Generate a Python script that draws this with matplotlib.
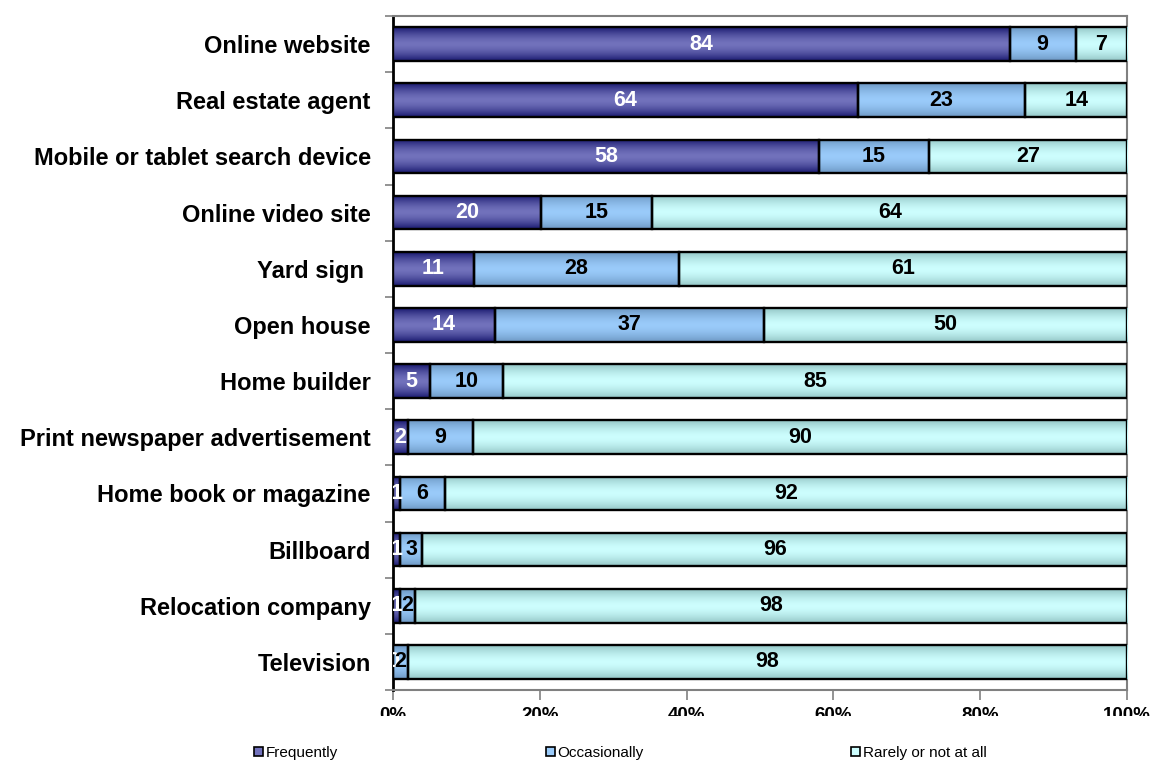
"""100% stacked bar chart: how often home buyers used each information source."""

import matplotlib.pyplot as plt
import numpy as np
from matplotlib.patches import Patch
from matplotlib.transforms import Bbox, TransformedBbox
from matplotlib.colors import to_rgb

# Data (percent of respondents)
SOURCES = [
    "Online website",
    "Real estate agent",
    "Mobile or tablet search device",
    "Online video site",
    "Yard sign ",
    "Open house",
    "Home builder",
    "Print newspaper advertisement",
    "Home book or magazine",
    "Billboard",
    "Relocation company",
    "Television",
]
FREQUENTLY = [84, 64, 58, 20, 11, 14, 5, 2, 1, 1, 1, 0]
OCCASIONALLY = [9, 23, 15, 15, 28, 37, 10, 9, 6, 3, 2, 2]
RARELY = [7, 14, 27, 64, 61, 50, 85, 90, 92, 96, 98, 98]
SERIES = ["Frequently", "Occasionally", "Rarely or not at all"]
X_TICKS = [0, 20, 40, 60, 80, 100]

# Colours: (centre, edge) of the vertical shading in each bar
SHADES = [
    ("#7272bc", "#1a1a70"),
    ("#9acbfa", "#6d98c4"),
    ("#cdfefe", "#94c6c6"),
]
LABEL_COLORS = ["white", "black", "black"]
BAR_H = 0.6

plt.rcParams.update({
    "font.family": ["Liberation Sans", "DejaVu Sans"],
    "figure.facecolor": "white",
    "axes.facecolor": "white",
})


def gradient(centre, edge, n=64):
    t = np.linspace(-1, 1, n)
    m = np.abs(t) ** 1.6
    c, e = np.array(to_rgb(centre)), np.array(to_rgb(edge))
    return (c[None, :] * (1 - m[:, None]) + e[None, :] * m[:, None])[:, None, :]


fig = plt.figure(figsize=(11.53, 7.62), dpi=100)
ax = fig.add_axes([393 / 1153, 1 - 690 / 762, (1127 - 393) / 1153, (690 - 16) / 762])

values = np.array([FREQUENTLY, OCCASIONALLY, RARELY], dtype=float)
shares = values / values.sum(axis=0) * 100
y = np.arange(len(SOURCES))
left = np.zeros(len(SOURCES))

for k, name in enumerate(SERIES):
    bars = ax.barh(y, shares[k], left=left, height=BAR_H, color=SHADES[k][0],
                   linewidth=0, label=name, zorder=3)
    grad = gradient(*SHADES[k])
    for bar in bars:
        if bar.get_width() <= 0:
            continue
        x0, y0 = bar.get_x(), bar.get_y()
        im = ax.imshow(grad, extent=[x0, x0 + bar.get_width(), y0, y0 + bar.get_height()],
                       aspect="auto", interpolation="bilinear", zorder=3.5)
        im.set_clip_path(bar)
    # black outline drawn over the shading
    ax.barh(y, shares[k], left=left, height=BAR_H, facecolor="none",
            edgecolor="black", linewidth=1.7, zorder=4)
    # Segment value labels
    for i, v in enumerate(values[k]):
        ax.text(left[i] + shares[k][i] / 2, y[i], f"{v:.0f}", ha="center", va="center",
                fontsize=15.5, fontweight="bold", color=LABEL_COLORS[k], zorder=5,
                clip_on=True)
    left += shares[k]

ax.set_xlim(0, 100)
ax.set_ylim(len(SOURCES) - 0.5, -0.5)

# Category labels, with tick marks between categories
ax.set_yticks(y)
ax.set_yticklabels(SOURCES, fontsize=17, fontweight="bold")
ax.tick_params(axis="y", which="major", length=0, pad=16)
ax.set_yticks(np.arange(len(SOURCES) + 1) - 0.5, minor=True)
ax.tick_params(axis="y", which="minor", length=6, width=1.2, color="#808080")

ax.set_xticks(X_TICKS)
ax.set_xticklabels([f"{t}%" for t in X_TICKS], fontsize=13.5, fontweight="bold")
ax.tick_params(axis="x", length=7, width=1.2, color="#808080", pad=5)

# The original export cuts the percentage labels in half
clip = TransformedBbox(Bbox.from_extents(0, 1 - 716 / 762, 1, 1), fig.transFigure)
for lbl in ax.get_xticklabels():
    lbl.set_clip_box(clip)
    lbl.set_clip_on(True)

for side in ["top", "right", "bottom"]:
    ax.spines[side].set_color("#808080")
    ax.spines[side].set_linewidth(1.5)
ax.spines["left"].set_color("black")
ax.spines["left"].set_linewidth(2)

handles = [Patch(facecolor=SHADES[k][0], edgecolor="black", linewidth=1.2) for k in range(3)]
fig.legend(handles, SERIES, loc="center", bbox_to_anchor=(0.538, 1 - 753 / 762), ncol=3,
           frameon=False, fontsize=11, handlelength=0.6, handleheight=0.6,
           handletextpad=0.15, columnspacing=13.6)

fig.savefig("out.png", dpi=100)
